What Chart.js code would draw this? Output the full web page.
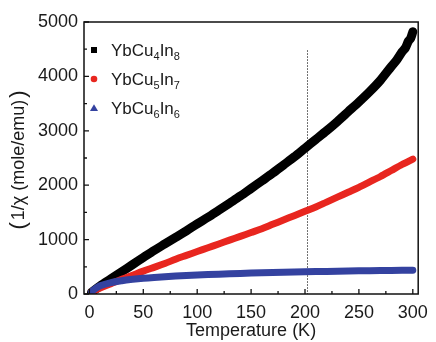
<!DOCTYPE html>
<html>
<head>
<meta charset="utf-8">
<script src="https://cdn.jsdelivr.net/npm/chart.js@4.4.0/dist/chart.umd.min.js"></script>
<style>
  html, body { margin: 0; padding: 0; background: #fff; }
  #wrap { width: 436px; height: 342px; }
</style>
</head>
<body>
<div id="wrap"><canvas id="chi"></canvas></div>
<script>
// values (T in K, 1/chi in mole/emu)
const tempA  = [2, 10, 20, 30, 40, 50, 60, 70, 80, 90, 100, 110, 120, 130, 140, 150, 160, 170, 180, 190, 200, 210, 220, 230, 240, 250, 260, 270, 280, 285, 290, 293, 296, 298, 300];
const cu4In8 = [30, 150, 280, 410, 540, 670, 800, 920, 1040, 1160, 1290, 1410, 1540, 1670, 1800, 1940, 2080, 2220, 2370, 2520, 2680, 2840, 3000, 3170, 3350, 3530, 3720, 3930, 4180, 4300, 4450, 4520, 4650, 4700, 4820];
const tempB  = [2, 10, 20, 30, 40, 50, 60, 70, 80, 90, 100, 110, 120, 130, 140, 150, 160, 170, 180, 190, 200, 210, 220, 230, 240, 250, 260, 270, 280, 290, 300];
const cu5In7 = [40, 110, 190, 270, 345, 420, 490, 560, 640, 710, 780, 850, 920, 990, 1060, 1130, 1200, 1280, 1360, 1440, 1520, 1600, 1690, 1780, 1870, 1960, 2060, 2160, 2270, 2380, 2480];
const tempC  = [2, 5, 10, 20, 30, 40, 50, 60, 80, 100, 120, 140, 160, 180, 200, 220, 240, 260, 280, 300];
const cu6In6 = [40, 90, 150, 210, 245, 270, 290, 305, 330, 350, 365, 378, 390, 400, 408, 415, 422, 428, 433, 437];

const xTicks = [0, 50, 100, 150, 200, 250, 300];
const yTicks = [0, 1000, 2000, 3000, 4000, 5000];
const markerT = 202;
const markerTop = 4480;

const legendItems = [
  { base: 'YbCu', n1: '4', mid: 'In', n2: '8', color: '#000000', shape: 'rect' },
  { base: 'YbCu', n1: '5', mid: 'In', n2: '7', color: '#e8261f', shape: 'circle' },
  { base: 'YbCu', n1: '6', mid: 'In', n2: '6', color: '#3442a0', shape: 'triangle' }
];

const FONT = 'Liberation Sans, Arial, sans-serif';
const pts = (xs, ys) => xs.map((x, i) => ({ x: x, y: ys[i] }));

const frame = {
  id: 'frame',
  beforeDatasetsDraw(chart) {
    const ctx = chart.ctx, xs = chart.scales.x, ys = chart.scales.y;
    // dotted marker line
    ctx.save();
    ctx.strokeStyle = '#444';
    ctx.lineWidth = 1;
    ctx.setLineDash([1.5, 1.5]);
    const px = Math.round(xs.getPixelForValue(markerT)) + 0.5;
    ctx.beginPath();
    ctx.moveTo(px, ys.getPixelForValue(markerTop));
    ctx.lineTo(px, ys.getPixelForValue(0));
    ctx.stroke();
    ctx.restore();
  },
  afterDraw(chart) {
    const ctx = chart.ctx, a = chart.chartArea, xs = chart.scales.x, ys = chart.scales.y;
    ctx.save();
    ctx.strokeStyle = '#111';
    ctx.lineWidth = 1.5;
    ctx.strokeRect(a.left, a.top, a.right - a.left, a.bottom - a.top);
    // inward ticks
    ctx.lineWidth = 1.3;
    ctx.beginPath();
    for (let v = 0; v <= 300; v += 25) {
      const px = xs.getPixelForValue(v);
      const len = v % 50 === 0 ? 5 : 3;
      ctx.moveTo(px, a.bottom);
      ctx.lineTo(px, a.bottom - len);
    }
    for (let v = 0; v <= 5000; v += 500) {
      const py = ys.getPixelForValue(v);
      const len = v % 1000 === 0 ? 5 : 3;
      ctx.moveTo(a.left, py);
      ctx.lineTo(a.left + len, py);
    }
    ctx.stroke();

    // legend
    ctx.textBaseline = 'alphabetic';
    legendItems.forEach((it, i) => {
      const cy = 50 + i * 29;
      const mx = 94;
      ctx.fillStyle = it.color;
      ctx.beginPath();
      if (it.shape === 'rect') ctx.rect(mx - 3, cy - 3, 6, 6);
      else if (it.shape === 'circle') ctx.arc(mx, cy, 3.3, 0, Math.PI * 2);
      else { ctx.moveTo(mx, cy - 3.8); ctx.lineTo(mx + 4, cy + 3); ctx.lineTo(mx - 4, cy + 3); ctx.closePath(); }
      ctx.fill();
      ctx.fillStyle = '#1a1a1a';
      let tx = 111;
      const base = cy + 6;
      ctx.font = '17px ' + FONT;
      ctx.fillText(it.base, tx, base); tx += ctx.measureText(it.base).width;
      ctx.font = '11px ' + FONT;
      ctx.fillText(it.n1, tx, base + 4); tx += ctx.measureText(it.n1).width;
      ctx.font = '17px ' + FONT;
      ctx.fillText(it.mid, tx, base); tx += ctx.measureText(it.mid).width;
      ctx.font = '11px ' + FONT;
      ctx.fillText(it.n2, tx, base + 4);
    });

    // y axis title
    ctx.save();
    ctx.translate(19, (a.top + a.bottom) / 2 + 2);
    ctx.rotate(-Math.PI / 2);
    ctx.textBaseline = 'middle';
    ctx.fillStyle = '#1a1a1a';
    const inner = '1/\u03c7 (mole/emu)';
    ctx.font = '18px ' + FONT;
    const wIn = ctx.measureText(inner).width;
    ctx.font = '22px ' + FONT;
    const wP = ctx.measureText('(').width;
    let sx = -(wIn + 2 * wP + 4) / 2;
    ctx.fillText('(', sx, 0); sx += wP + 2;
    ctx.font = '18px ' + FONT;
    ctx.fillText(inner, sx, 0); sx += wIn + 2;
    ctx.font = '22px ' + FONT;
    ctx.fillText(')', sx, 0);
    ctx.restore();
    ctx.restore();
  }
};

new Chart(document.getElementById('chi'), {
  type: 'line',
  data: {
    datasets: [
      { label: 'YbCu4In8', data: pts(tempA, cu4In8), borderColor: '#000000', borderWidth: 9, order: 3 },
      { label: 'YbCu5In7', data: pts(tempB, cu5In7), borderColor: '#e8261f', borderWidth: 7, order: 2 },
      { label: 'YbCu6In6', data: pts(tempC, cu6In6), borderColor: '#3442a0', borderWidth: 7, order: 1 }
    ]
  },
  options: {
    responsive: true,
    maintainAspectRatio: false,
    animation: false,
    devicePixelRatio: 1,
    layout: { padding: { top: 22, right: 11, left: 0, bottom: 0 } },
    elements: { point: { radius: 0 }, line: { tension: 0.3, borderCapStyle: 'round', borderJoinStyle: 'round' } },
    plugins: { legend: { display: false }, tooltip: { enabled: false } },
    scales: {
      x: {
        type: 'linear', min: -5, max: 305,
        afterBuildTicks: s => { s.ticks = xTicks.map(v => ({ value: v })); },
        afterFit: s => { s.height = 48; },
        grid: { display: false, drawTicks: false },
        border: { display: false },
        ticks: { color: '#1a1a1a', padding: 8, maxRotation: 0, callback: v => String(v), font: { family: FONT, size: 18 } },
        title: { display: true, text: 'Temperature (K)', color: '#1a1a1a', padding: { top: 0, bottom: 0 }, font: { family: FONT, size: 18 } }
      },
      y: {
        min: 0, max: 5000,
        afterBuildTicks: s => { s.ticks = yTicks.map(v => ({ value: v })); },
        afterFit: s => { s.width = 84; },
        grid: { display: false, drawTicks: false },
        border: { display: false },
        ticks: { color: '#1a1a1a', padding: 6, callback: v => String(v), font: { family: FONT, size: 18 } }
      }
    }
  },
  plugins: [frame]
});
</script>
</body>
</html>
